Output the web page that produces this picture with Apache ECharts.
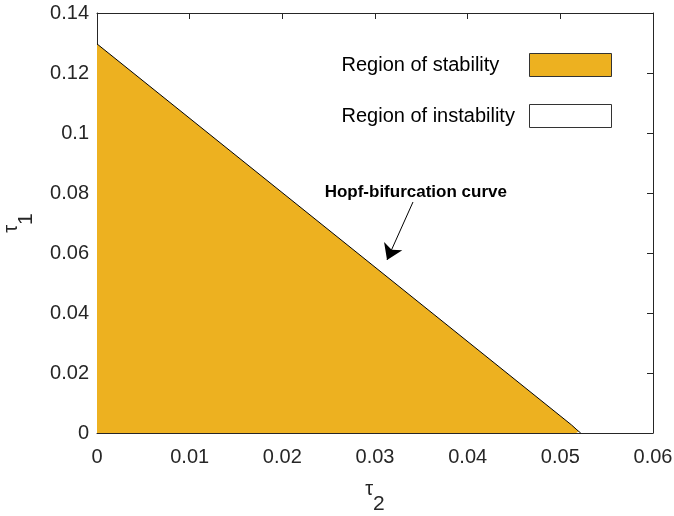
<!DOCTYPE html>
<html>
<head>
<meta charset="utf-8">
<script src="https://cdn.jsdelivr.net/npm/echarts@6/dist/echarts.min.js"></script>
<style>
  html, body { margin: 0; padding: 0; background: #fff; }
  #chart { width: 674px; height: 516px; }
</style>
</head>
<body>
<div id="chart"></div>
<script>
// Hopf-bifurcation boundary (tau2, tau1)
const tau2 = [0, 0.0512, 0.0517, 0.0520, 0.0522]
const tau1 = [0.1297, 0.0027, 0.0013, 0.0005, 0]
const xTicks = [0, 0.06, 0.01]
const yTicks = [0, 0.14, 0.02]
const legendNames = ['Region of stability', 'Region of instability']
// annotation text anchor and arrow (data coords)
const noteAt = [0.0344, 0.0803]
const arrowFrom = [0.0341, 0.0770]
const arrowTo = [0.0313, 0.0577]

const font = 'Liberation Sans, Arial, Helvetica, sans-serif'
const axisColor = '#262626'
const fmt = v => String(parseFloat(v.toFixed(4)))

const chart = echarts.init(document.getElementById('chart'))

const boxAxis = {
  axisLine: { show: true, onZero: false, lineStyle: { color: axisColor, width: 1 } },
  axisTick: { show: true, inside: true, length: 6, lineStyle: { color: axisColor } },
  splitLine: { show: false }
}

const subRich = {
  t: { fontFamily: font, fontSize: 20, color: axisColor, verticalAlign: 'top', lineHeight: 36 },
  s: { fontFamily: font, fontSize: 21, color: axisColor, verticalAlign: 'bottom', lineHeight: 36 }
}

chart.setOption({
  animation: false,
  grid: { left: 97, right: 21, top: 13, bottom: 83, outerBoundsMode: 'none', containLabel: false },
  legend: {
    orient: 'vertical',
    right: 57,
    top: 48,
    align: 'right',
    itemWidth: 82,
    itemHeight: 23,
    itemGap: 27,
    selectedMode: false,
    formatter: '{a|{name}}',
    textStyle: {
      fontFamily: font, fontSize: 20, color: '#000',
      rich: { a: { width: 183, align: 'left', fontFamily: font, fontSize: 20, color: '#000' } }
    },
    data: [
      { name: legendNames[0], icon: 'rect', itemStyle: { color: '#EDB120', borderColor: '#333', borderWidth: 1 } },
      { name: legendNames[1], icon: 'rect', itemStyle: { color: '#fff', borderColor: '#333', borderWidth: 1 } }
    ]
  },
  xAxis: [{
    type: 'value',
    min: xTicks[0], max: xTicks[1], interval: xTicks[2],
    name: '{t|τ}{s|2}',
    nameLocation: 'middle',
    nameGap: 46,
    nameTextStyle: { rich: subRich },
    axisLabel: { fontFamily: font, fontSize: 20, color: axisColor, margin: 14, formatter: fmt },
    ...boxAxis
  }, {
    type: 'value', position: 'top',
    min: xTicks[0], max: xTicks[1], interval: xTicks[2],
    axisLabel: { show: false },
    ...boxAxis
  }],
  yAxis: [{
    type: 'value',
    min: yTicks[0], max: yTicks[1], interval: yTicks[2],
    name: '{t|τ}{s|1}',
    nameLocation: 'middle',
    nameGap: 60,
    nameRotate: 90,
    nameMoveOverlap: false,
    nameTextStyle: { rich: subRich },
    axisLabel: { fontFamily: font, fontSize: 20, color: axisColor, margin: 8, formatter: fmt },
    ...boxAxis
  }, {
    type: 'value', position: 'right',
    min: yTicks[0], max: yTicks[1], interval: yTicks[2],
    axisLabel: { show: false },
    ...boxAxis
  }],
  series: [{
    name: legendNames[0],
    type: 'line',
    data: tau2.map((x, i) => [x, tau1[i]]),
    symbol: 'none',
    lineStyle: { color: '#000', width: 1 },
    itemStyle: { color: '#EDB120' },
    areaStyle: { color: '#EDB120', opacity: 1 },
    z: 1,
    markPoint: {
      silent: true,
      symbol: 'circle',
      symbolSize: 0,
      label: {
        show: true, position: 'inside',
        formatter: 'Hopf-bifurcation curve',
        fontFamily: font, fontSize: 17, fontWeight: 'bold', color: '#000'
      },
      data: [{ coord: noteAt }]
    },
    markLine: {
      silent: true,
      symbol: ['none', 'arrow'],
      symbolSize: 15,
      label: { show: false },
      lineStyle: { color: '#000', width: 1, type: 'solid' },
      data: [[{ coord: arrowFrom }, { coord: arrowTo }]]
    }
  }, {
    name: legendNames[1],
    type: 'line',
    data: [],
    itemStyle: { color: '#fff' }
  }]
})
</script>
</body>
</html>
